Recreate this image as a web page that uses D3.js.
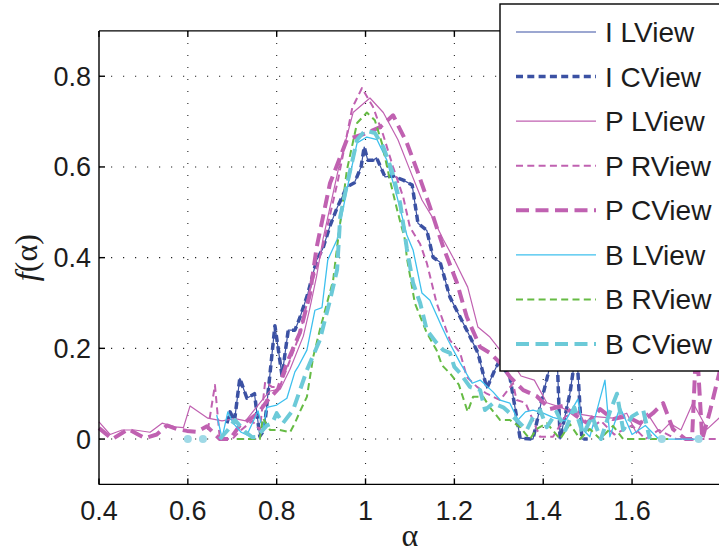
<!DOCTYPE html>
<html>
<head>
<meta charset="utf-8">
<script src="https://cdn.jsdelivr.net/npm/d3@7/dist/d3.min.js"></script>
<style>
body { margin: 0; background: #fff; }
svg { display: block; }
</style>
</head>
<body>
<div id="chart"></div>
<script>
// tick values
var xTicks = [0.4, 0.6, 0.8, 1, 1.2, 1.4, 1.6, 1.8];
var xTickLabels = ['0.4', '0.6', '0.8', '1', '1.2', '1.4', '1.6', ''];
var yTicks = [0, 0.2, 0.4, 0.6, 0.8];
var yTickLabels = ['0', '0.2', '0.4', '0.6', '0.8'];

var seriesNames = ['I LView', 'I CView', 'P LView', 'P RView', 'P CView', 'B LView', 'B RView', 'B CView'];

// [alpha, f(alpha)]; null = gap
var iCView = [[0.688,0.035],[0.695,0.06],[0.705,0.04],[0.717,0.134],[0.733,0.09],[0.75,0.1],[0.762,0.006],[0.772,0.02],
  [0.796,0.25],[0.812,0.14],[0.826,0.24],[0.841,0.24],[0.852,0.267],[0.87,0.32],[0.89,0.395],[0.904,0.42],[0.92,0.47],
  [0.936,0.51],[0.958,0.556],[0.975,0.565],[0.99,0.6],[0.997,0.644],[1.005,0.615],[1.017,0.615],[1.025,0.62],[1.044,0.578],
  [1.062,0.58],[1.085,0.571],[1.105,0.56],[1.118,0.476],[1.138,0.46],[1.152,0.401],[1.168,0.39],[1.19,0.313],[1.228,0.24],
  [1.253,0.19],[1.273,0.112],[1.29,0.15],[1.3,0.17],[1.325,0.137],[1.348,0.002],[1.377,0],[1.4,0.1],[1.43,0.22],[1.438,0],
  [1.46,0.1],[1.475,0.2],[1.487,0],[1.5,0]];
var iLView = iCView.slice();
var pLView = [[0.4,0.038],[0.425,0.01],[0.452,0.02],[0.48,0.02],[0.515,0.015],[0.542,0.035],[0.571,0.027],[0.59,0.025],
  [0.605,0.073],[0.645,0.046],[0.677,0.04],[0.706,0.045],[0.73,0.04],[0.769,0.088],[0.785,0.106],[0.808,0.11],[0.83,0.154],
  [0.86,0.227],[0.875,0.29],[0.89,0.36],[0.904,0.44],[0.94,0.6],[0.972,0.72],[1.01,0.752],[1.04,0.72],[1.073,0.66],[1.1,0.593],
  [1.127,0.527],[1.15,0.49],[1.175,0.44],[1.2,0.395],[1.23,0.335],[1.253,0.247],[1.28,0.225],[1.303,0.196],[1.33,0.17],
  [1.35,0.139],[1.38,0.13],[1.408,0.08],[1.44,0.07],[1.467,0.057],[1.512,0.05],[1.557,0.046],[1.588,0.057],[1.61,0.013],
  [1.634,0.057],[1.663,0.013],[1.685,0.035],[1.71,0.02],[1.737,0.08],[1.769,0.022],[1.8,0.05]];
var pRView = [[0.645,0.02],[0.661,0.119],[0.672,0],[0.7,0],[0.72,0.02],[0.745,0.04],[0.762,0.02],[0.774,0.126],[0.789,0.115],
  [0.807,0.115],[0.83,0.174],[0.853,0.233],[0.875,0.33],[0.902,0.417],[0.938,0.571],[0.97,0.73],[0.992,0.774],[1.017,0.732],
  [1.04,0.67],[1.062,0.6],[1.085,0.533],[1.1,0.467],[1.123,0.43],[1.138,0.388],[1.16,0.3],[1.19,0.218],[1.213,0.19],
  [1.228,0.137],[1.251,0.115],[1.273,0.1],[1.303,0.086],[1.332,0.123],[1.34,0.086],[1.36,0.08],[1.393,0.005],[1.422,0.005],
  [1.45,0.05],[1.48,0.06],[1.5,0.02],[1.53,0.04],[1.56,0.01],[1.6,0.03],[1.63,0],[1.66,0.02],[1.7,0],[1.74,0],[1.77,0],[1.8,0]];
var pCView = [[0.4,0.024],[0.43,0],[0.466,0.022],[0.488,0.01],[0.504,0.002],[0.53,0.01],[0.553,0.03],[0.575,0.022],
  [0.598,0.018],[0.62,0.016],[0.643,0.028],[0.672,0],[0.695,0],[0.717,0.03],[0.74,0.044],[0.758,0.057],[0.78,0.086],
  [0.803,0.11],[0.823,0.168],[0.852,0.234],[0.875,0.32],[0.89,0.423],[0.92,0.564],[0.958,0.66],[1.003,0.675],[1.033,0.688],
  [1.062,0.714],[1.093,0.653],[1.116,0.593],[1.145,0.512],[1.175,0.423],[1.206,0.344],[1.228,0.269],[1.258,0.203],
  [1.28,0.19],[1.303,0.168],[1.325,0.137],[1.355,0.108],[1.385,0.095],[1.415,0.066],[1.445,0.073],[1.476,0.05],
  [1.499,0.035],[1.528,0.066],[1.557,0.044],[1.588,0.05],[1.618,0.035],[1.647,0.057],[1.67,0.079],[1.692,0.022],
  [1.72,0],[1.735,0],[1.745,0.22],[1.758,0],[1.775,0.06],[1.8,0.16]];
var bLView = [[0.665,0.053],[0.677,0.002],[0.69,0.06],[0.702,0.035],[0.72,0.015],[0.733,0.009],[0.758,0.062],[0.769,0.02],
  [0.778,0.07],[0.8,0.075],[0.823,0.09],[0.841,0.148],[0.848,0.159],[0.868,0.196],[0.886,0.284],[0.902,0.29],[0.915,0.395],
  [0.936,0.44],[0.958,0.55],[0.981,0.653],[1.003,0.666],[1.026,0.66],[1.048,0.615],[1.071,0.534],[1.093,0.45],[1.107,0.417],
  [1.127,0.322],[1.145,0.306],[1.172,0.247],[1.186,0.218],[1.213,0.168],[1.24,0.123],[1.258,0.13],[1.287,0.104],
  [1.303,0.086],[1.325,0.079],[1.343,0.042],[1.36,0.06],[1.377,0.064],[1.4,0.057],[1.422,0.048],[1.45,0.04],[1.478,0.088],
  [1.49,0.02],[1.505,0.005],[1.52,0.06],[1.539,0.13],[1.55,0.005],[1.573,0.07],[1.6,0.01],[1.63,0.03],[1.66,0],[1.75,0]];
var bRView = [[0.71,0],[0.762,0],[0.769,0.046],[0.785,0.02],[0.807,0.02],[0.83,0.015],[0.841,0.035],[0.852,0.06],
  [0.868,0.093],[0.882,0.18],[0.897,0.24],[0.927,0.35],[0.936,0.423],[0.958,0.593],[0.981,0.697],[1.003,0.72],[1.021,0.703],
  [1.037,0.652],[1.055,0.571],[1.073,0.498],[1.089,0.439],[1.093,0.4],[1.111,0.3],[1.138,0.234],[1.16,0.196],[1.172,0.163],
  [1.19,0.145],[1.21,0.12],[1.23,0.06],[1.242,0.093],[1.265,0.093],[1.28,0.07],[1.303,0.042],[1.325,0.042],[1.348,0.026],
  [1.37,0],[1.385,0.022],[1.408,0.035],[1.438,0],[1.46,0.033],[1.483,0],[1.505,0.022],[1.528,0],[1.557,0.029],[1.58,0],[1.69,0]];
var bCView = [[0.6,0],[0.61,null],[0.634,0],[0.65,null],[0.672,0],[0.69,0.02],[0.706,0.042],[0.729,0.016],[0.745,0.004],
  [0.755,0.005],[0.778,0.03],[0.79,0.035],[0.8,0.057],[0.814,0.035],[0.837,0.064],[0.868,0.152],[0.897,0.218],[0.92,0.306],
  [0.936,0.373],[0.943,0.49],[0.958,0.56],[0.981,0.66],[0.999,0.68],[1.021,0.675],[1.04,0.644],[1.059,0.593],[1.078,0.52],
  [1.093,0.42],[1.107,0.344],[1.123,0.3],[1.138,0.24],[1.16,0.212],[1.175,0.196],[1.19,0.19],[1.2,0.159],[1.213,0.145],
  [1.235,0.115],[1.258,0.108],[1.269,0.064],[1.287,0.079],[1.31,0.07],[1.325,0.057],[1.34,0.042],[1.363,0.02],[1.377,0.048],
  [1.393,0.064],[1.408,0.026],[1.43,0.06],[1.45,0.02],[1.47,0.07],[1.49,0.01],[1.51,0.05],[1.53,0],[1.55,0.06],[1.566,0.1],
  [1.58,0.02],[1.6,0.05],[1.625,0.064],[1.64,0],[1.65,null],[1.667,0],[1.7,null],[1.75,0]];

var seriesData = [iLView, iCView, pLView, pRView, pCView, bLView, bRView, bCView];

// line styles
var styles = [
  { color: '#3b51a3', width: 1.2, dash: null },
  { color: '#3b51a3', width: 3.5, dash: '7,4.3' },
  { color: '#c061b1', width: 1.2, dash: null },
  { color: '#c061b1', width: 2, dash: '7,4.3' },
  { color: '#c061b1', width: 4, dash: '13,6.5' },
  { color: '#3ec0ee', width: 1.3, dash: null },
  { color: '#66bb44', width: 2, dash: '7,4.3' },
  { color: '#6ccad8', width: 4, dash: '13,6.5' }
];

var W = 719, H = 552;
var svg = d3.select('#chart').append('svg').attr('width', W).attr('height', H);

var x = d3.scaleLinear().domain([0.4, 1.8]).range([99, 720.9]);
var y = d3.scaleLinear().domain([-0.1, 0.9]).range([484.4, 30.9]);
var xLeft = x.range()[0], xRight = x.range()[1], yTop = y.range()[1], yBottom = y.range()[0];

var font = '"Liberation Sans", Arial, Helvetica, sans-serif';
var textColor = '#1c1c1c';

// grid
var grid = svg.append('g');
grid.selectAll('line.vg').data(xTicks.slice(1)).enter().append('line')
  .attr('x1', d => x(d)).attr('x2', d => x(d)).attr('y1', yTop).attr('y2', yBottom)
  .attr('stroke', '#222').attr('stroke-width', 1.1).attr('stroke-dasharray', '1.2,10.8');
grid.selectAll('line.hg').data(yTicks).enter().append('line')
  .attr('y1', d => y(d)).attr('y2', d => y(d)).attr('x1', xLeft).attr('x2', xRight)
  .attr('stroke', '#222').attr('stroke-width', 1.1).attr('stroke-dasharray', '1.2,10.8');

// series
var plot = svg.append('g');
var line = d3.line().defined(d => d[1] != null).x(d => x(d[0])).y(d => y(d[1]));

seriesData.forEach(function (data, i) {
  var st = styles[i];
  plot.append('path').datum(data)
    .attr('d', line)
    .attr('fill', 'none')
    .attr('stroke', st.color)
    .attr('stroke-width', st.width)
    .attr('stroke-linejoin', 'round')
    .attr('stroke-dasharray', st.dash);
  // isolated points show up as dots
  var lone = data.filter(function (d, j) {
    return d[1] != null && (j === 0 || data[j - 1][1] == null) && (j === data.length - 1 || data[j + 1][1] == null);
  });
  plot.selectAll(null).data(lone).enter().append('circle')
    .attr('cx', d => x(d[0])).attr('cy', d => y(d[1])).attr('r', 4)
    .attr('fill', '#9fd9e6');
});

// axes box
var ax = svg.append('g').attr('stroke', '#000').attr('stroke-width', 1.4);
ax.append('line').attr('x1', xLeft).attr('x2', xRight).attr('y1', yBottom).attr('y2', yBottom);
ax.append('line').attr('x1', xLeft).attr('x2', xRight).attr('y1', yTop).attr('y2', yTop);
ax.append('line').attr('x1', xLeft).attr('x2', xLeft).attr('y1', yTop).attr('y2', yBottom);
ax.selectAll(null).data(xTicks).enter().append('line')
  .attr('x1', d => x(d)).attr('x2', d => x(d)).attr('y1', yBottom).attr('y2', yBottom - 6);
ax.selectAll(null).data(xTicks).enter().append('line')
  .attr('x1', d => x(d)).attr('x2', d => x(d)).attr('y1', yTop).attr('y2', yTop + 6);
ax.selectAll(null).data(yTicks).enter().append('line')
  .attr('x1', xLeft).attr('x2', xLeft + 6).attr('y1', d => y(d)).attr('y2', d => y(d));

svg.selectAll('text.xt').data(xTicks).enter().append('text')
  .attr('x', d => x(d)).attr('y', yBottom + 36)
  .attr('text-anchor', 'middle').attr('font-family', font).attr('font-size', 27).attr('fill', textColor)
  .text((d, i) => xTickLabels[i]);
svg.selectAll('text.yt').data(yTicks).enter().append('text')
  .attr('x', xLeft - 8).attr('y', d => y(d) + 9.5)
  .attr('text-anchor', 'end').attr('font-family', font).attr('font-size', 27).attr('fill', textColor)
  .text((d, i) => yTickLabels[i]);

// axis titles
svg.append('text').attr('x', (xLeft + xRight) / 2).attr('y', 546)
  .attr('text-anchor', 'middle').attr('font-family', '"Liberation Serif", serif').attr('font-size', 32)
  .attr('fill', textColor).text('α');
var yl = svg.append('text').attr('transform', 'translate(37,' + ((yTop + yBottom) / 2) + ') rotate(-90)')
  .attr('text-anchor', 'middle').attr('font-family', '"Liberation Serif", serif').attr('font-size', 32)
  .attr('fill', textColor);
yl.append('tspan').attr('font-style', 'italic').text('f');
yl.append('tspan').text('(α)');

// legend
var lg = svg.append('g');
lg.append('rect').attr('x', 500).attr('y', 4).attr('width', 240).attr('height', 367)
  .attr('fill', '#fff').attr('stroke', '#000').attr('stroke-width', 1.4);
var legendY = d3.scalePoint().domain(seriesNames).range([32, 344]);
seriesNames.forEach(function (name, i) {
  var st = styles[i];
  var ly = legendY(name);
  lg.append('line').attr('x1', 516).attr('x2', 596).attr('y1', ly).attr('y2', ly)
    .attr('stroke', st.color).attr('stroke-width', st.width).attr('stroke-dasharray', st.dash);
  lg.append('text').attr('x', 605).attr('y', ly + 10)
    .attr('font-family', font).attr('font-size', 28).attr('fill', textColor).text(name);
});
</script>
</body>
</html>
